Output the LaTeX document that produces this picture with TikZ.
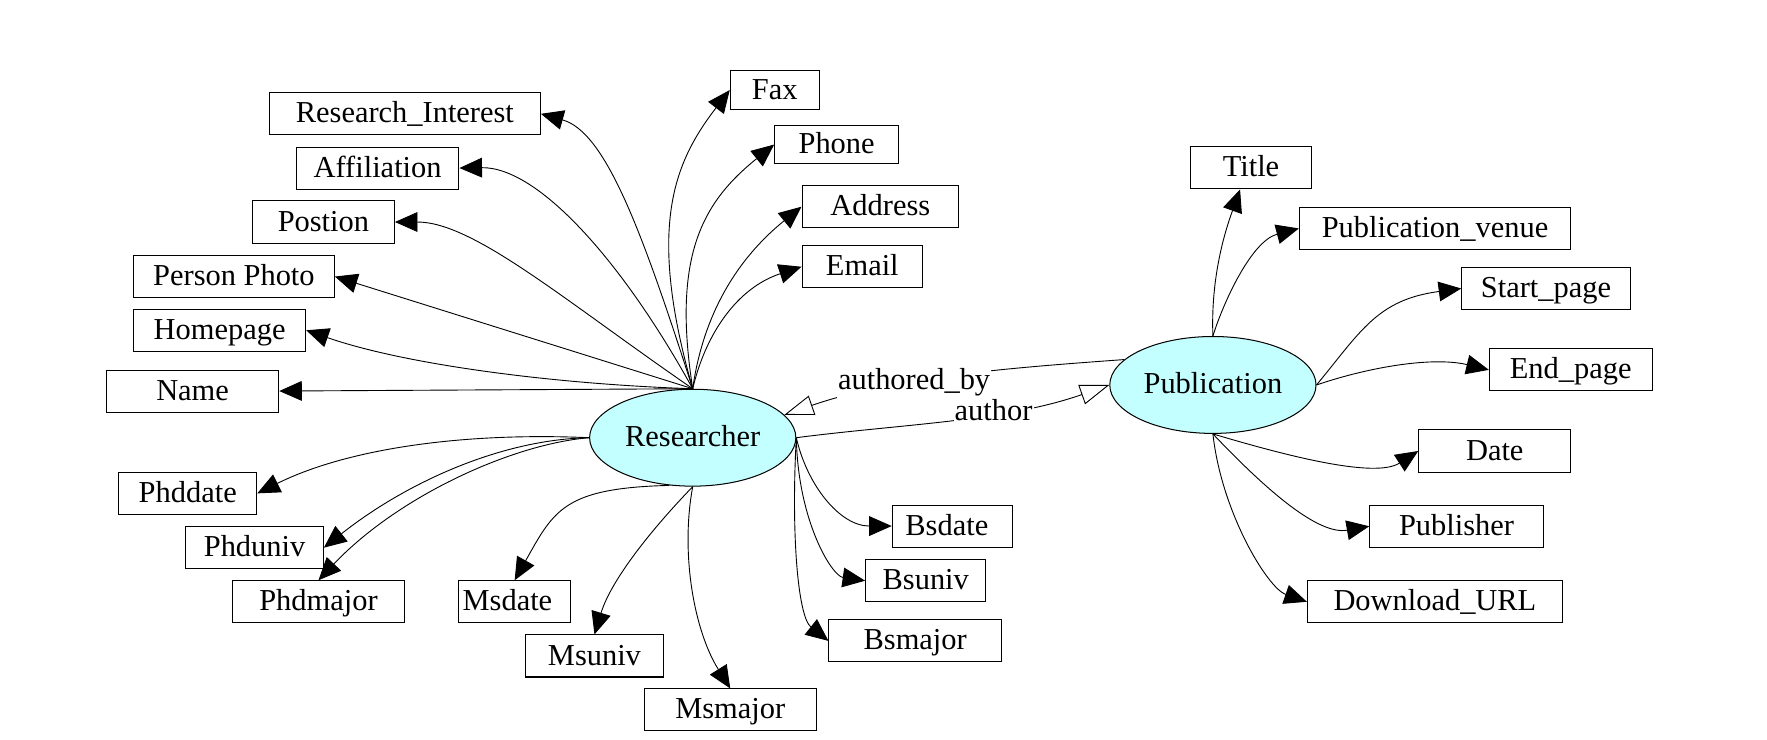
\documentclass[tikz,border=0pt]{standalone}
\usepackage{fontspec}
\setmainfont{Liberation Serif}
\usetikzlibrary{arrows.meta,shapes.geometric}
\definecolor{nodecyan}{RGB}{196,255,255}
\begin{document}
\begin{tikzpicture}[x=1pt,y=-1pt,
  every node/.style={font=\fontsize{27pt}{32pt}\selectfont},
  attr/.style={draw=black, line width=0.9pt, rectangle, inner sep=0pt, minimum height=37.3pt, text height=18pt, text depth=2pt},
  ent/.style={draw=black, line width=0.9pt, ellipse, fill=nodecyan, inner sep=0pt, minimum width=183pt, minimum height=86pt, text height=18pt, text depth=2pt},
  attrarrow/.style={line width=0.8pt, -{Triangle[length=20pt,width=17.5pt]}},
  relarrow/.style={line width=0.8pt, -{Triangle[open,length=26pt,width=18pt]}},
  lbl/.style={fill=white, inner sep=1pt}
]
\useasboundingbox (0,0) rectangle (1568,656);

% entities
\node[ent] (res) at (614.7,388.4) {Researcher};
\node[ent] (pub) at (1076.3,341.6) {Publication};

% researcher attributes
\node[attr, minimum width=240.5pt] (ri) at (359.3,101) {Research\_Interest};
\node[attr, minimum width=144.3pt] (aff) at (335.1,149.1) {Affiliation};
\node[attr, minimum width=126pt] (pos) at (287,197) {Postion};
\node[attr, minimum width=178.2pt] (photo) at (207.6,245.4) {Person Photo};
\node[attr, minimum width=152.8pt] (home) at (194.9,293.1) {Homepage};
\node[attr, minimum width=152.9pt] (name) at (170.9,347) {Name};
\node[attr, minimum width=79pt, minimum height=34.3pt] (fax) at (687.5,79.9) {Fax};
\node[attr, minimum width=110pt, minimum height=33.5pt] (phone) at (742.4,128.3) {Phone};
\node[attr, minimum width=139pt] (addr) at (781.2,183.4) {Address};
\node[attr, minimum width=107pt] (email) at (765.2,236.7) {Email};
\node[attr, minimum width=122.5pt] (phddate) at (166.6,437.8) {Phddate};
\node[attr, minimum width=122.1pt] (phduniv) at (225.9,486) {Phduniv};
\node[attr, minimum width=152.3pt] (phdmajor) at (282.6,534) {Phdmajor};
\node[attr, minimum width=99.4pt] (msdate) at (456.7,534) {\hspace*{-12.8pt}Msdate};
\node[attr, minimum width=122.1pt] (msuniv) at (527.5,582.1) {Msuniv};
\node[attr, minimum width=152.9pt] (msmajor) at (648,630) {Msmajor};
\node[attr, minimum width=106.9pt] (bsdate) at (845.2,466.8) {\hspace*{-10pt}Bsdate};
\node[attr, minimum width=106.7pt] (bsuniv) at (821.5,515.3) {Bsuniv};
\node[attr, minimum width=153pt] (bsmajor) at (812.1,568.7) {Bsmajor};

% publication attributes
\node[attr, minimum width=107pt] (title) at (1110.1,149) {Title};
\node[attr, minimum width=240.8pt] (venue) at (1273.4,202.7) {Publication\_venue};
\node[attr, minimum width=149.6pt] (spage) at (1371.9,256) {Start\_page};
\node[attr, minimum width=144.4pt] (epage) at (1393.8,328.2) {End\_page};
\node[attr, minimum width=134.9pt] (date) at (1326.4,400.2) {Date};
\node[attr, minimum width=154.1pt] (publisher) at (1292.5,467) {Publisher};
\node[attr, minimum width=226.3pt] (url) at (1273.3,534) {Download\_URL};

% researcher edges (upper fan)
\draw[attrarrow] (res.north) .. controls (569,202.5) and (537,117) .. (ri.east);
\draw[attrarrow] (res.north) .. controls (551.6,230.6) and (477,148) .. (aff.east);
\draw[attrarrow] (res.north) .. controls (500,266) and (420,197) .. (pos.east);
\draw[attrarrow] (res.north) -- (photo.east);
\draw[attrarrow] (res.north) .. controls (494,341) and (361,324) .. (home.east);
\draw[attrarrow] (res.north) -- (name.east);
\draw[attrarrow] (res.north) .. controls (573.5,201) and (598.4,143.8) .. (fax.west);
\draw[attrarrow] (res.north) .. controls (596,226) and (624.2,178.8) .. (phone.west);
\draw[attrarrow] (res.north) .. controls (623,285.6) and (649.3,233.6) .. (addr.west);
\draw[attrarrow] (res.north) .. controls (626,296.5) and (654,255.5) .. (email.west);

% researcher edges (lower)
\draw[attrarrow] (res.west) .. controls (413,383.5) and (309.3,397.6) .. (phddate.east);
\draw[attrarrow] (res.west) .. controls (443,390) and (358.6,429.6) .. (phduniv.east);
\draw[attrarrow] (res.west) .. controls (455,394) and (353.5,440) .. (phdmajor.north);
\draw[attrarrow] (res.244) .. controls (500,433) and (491.5,453) .. (msdate.north);
\draw[attrarrow] (res.south) .. controls (579.3,468.5) and (542.5,514) .. (msuniv.north);
\draw[attrarrow] (res.south) .. controls (603.6,491.3) and (616,559.8) .. (msmajor.north);
\draw[attrarrow] (res.east) .. controls (716,430) and (745,466.8) .. (bsdate.west);
\draw[attrarrow] (res.east) .. controls (708,462) and (738,511) .. (bsuniv.west);
\draw[attrarrow] (res.east) .. controls (702,470) and (707.6,546.9) .. (bsmajor.west);

% publication edges
\draw[attrarrow] (pub.north) .. controls (1074,240) and (1090.5,195.9) .. ([xshift=-9.7pt]title.south);
\draw[attrarrow] (pub.north) .. controls (1085,270) and (1110,214) .. (venue.west);
\draw[attrarrow] (pub.east) .. controls (1207.6,294) and (1222,266) .. (spage.west);
\draw[attrarrow] (pub.east) .. controls (1215.5,325.5) and (1271.6,316.3) .. (epage.west);
\draw[attrarrow] (pub.south) .. controls (1140,404) and (1220,425) .. (date.west);
\draw[attrarrow] (pub.south) .. controls (1124.3,435.6) and (1170,475) .. (publisher.west);
\draw[attrarrow] (pub.south) .. controls (1084,455) and (1125,522) .. (url.west);

% relations
\draw[relarrow] (pub.164) .. controls (898,326.3) and (795,334) .. (res.14);
\draw[relarrow] (res.east) .. controls (800,376.3) and (892,374) .. (pub.west);
\node[lbl, anchor=base west] (lab1) at (742.5,346) {authored\_by};
\node[lbl, anchor=base west] (lab2) at (846,373.3) {author};
\end{tikzpicture}
\end{document}
